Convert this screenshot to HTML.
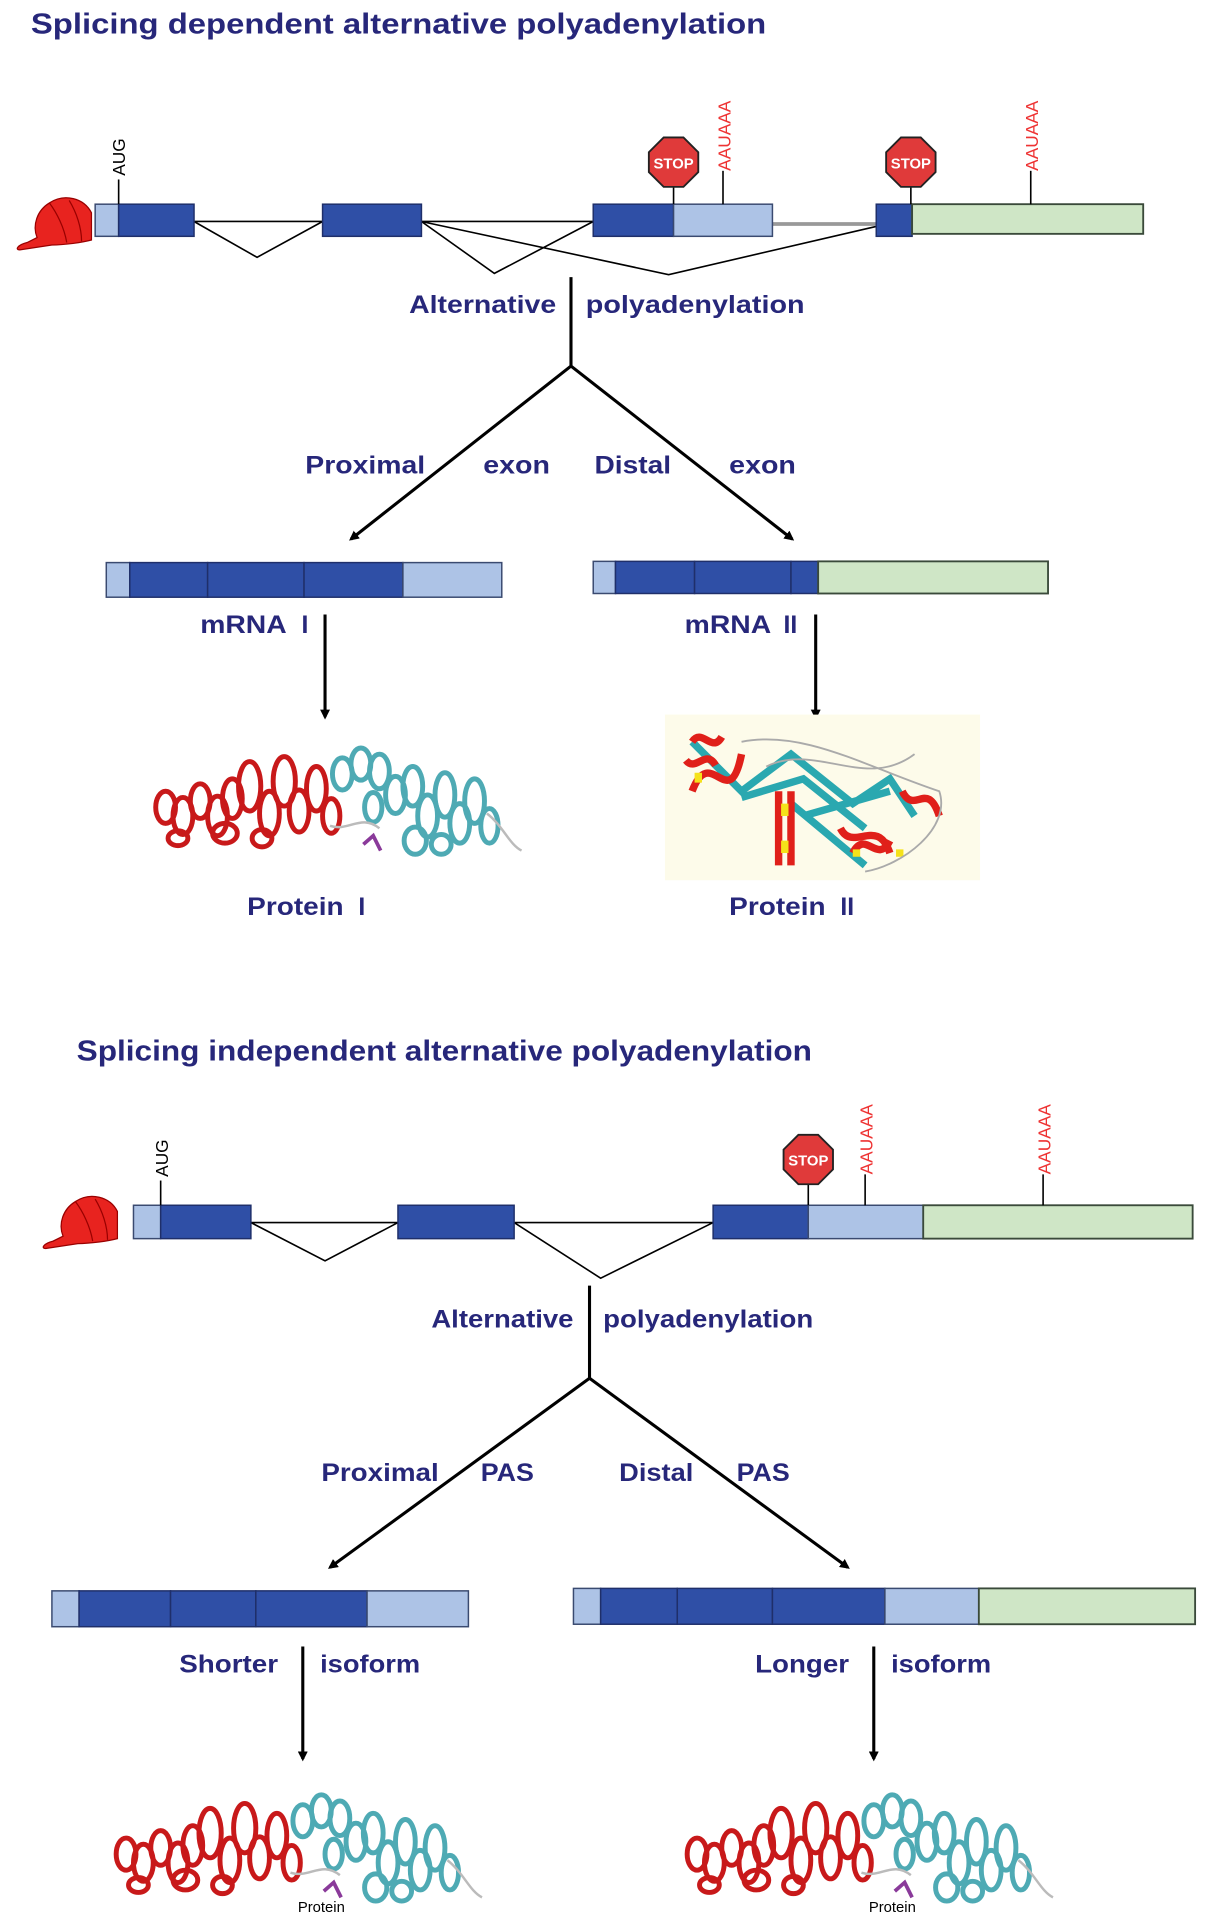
<!DOCTYPE html>
<html><head><meta charset="utf-8"><style>
html,body{margin:0;padding:0;background:#fff}
svg{display:block}
text{font-family:"Liberation Sans",sans-serif}
.t{font-weight:bold;fill:#27277a;font-size:20px}
.h{font-weight:bold;fill:#27277a;font-size:23px}
.d{fill:#2f4fa6;stroke:#1f2f6a;stroke-width:1.2}
.l{fill:#adc3e6;stroke:#3a4a70;stroke-width:1.2}
.g{fill:#cfe6c6;stroke:#3a4a3a;stroke-width:1.5}
.ln{stroke:#000;stroke-width:1.3;fill:none}
.ar{stroke:#000;stroke-width:2.5;fill:none}
.rna{fill:#e33;font-size:14px}
</style></head><body>
<svg width="1205" height="1931" viewBox="0 0 975 1562" xmlns="http://www.w3.org/2000/svg">
<defs>
<marker id="ah" markerWidth="8" markerHeight="8" refX="6" refY="4" orient="auto" markerUnits="userSpaceOnUse"><path d="M0,0 L8,4 L0,8 z" fill="#000"/></marker>
<g id="cap">
<path d="M10,38 C2,40 0,44 4,44 L30,40 C40,40 55,38 62,36 L62,14 C56,2 40,-2 28,6 C18,12 14,24 18,34 Z" fill="#e8231f" stroke="#900" stroke-width="1"/>
<path d="M28,6 C34,14 40,26 42,38 M44,4 C50,14 54,26 54,37" stroke="#900" stroke-width="1" fill="none"/>
</g>
<g id="stop"><polygon points="-8,-20 8,-20 20,-8 20,8 8,20 -8,20 -20,8 -20,-8" fill="#e03a3a" stroke="#222" stroke-width="1.5"/><text x="0" y="5" text-anchor="middle" fill="#fff" font-size="12" font-weight="bold">STOP</text></g>
<g id="prot" fill="none" stroke-width="4">
<g stroke="#c8191a">
<ellipse cx="12" cy="55" rx="8" ry="13"/><ellipse cx="26" cy="62" rx="8" ry="15"/><ellipse cx="40" cy="50" rx="8" ry="14"/><ellipse cx="54" cy="62" rx="8" ry="16"/><ellipse cx="66" cy="48" rx="8" ry="16"/><ellipse cx="80" cy="38" rx="9" ry="20"/><ellipse cx="96" cy="60" rx="8" ry="18"/><ellipse cx="108" cy="34" rx="9" ry="20"/><ellipse cx="120" cy="58" rx="8" ry="17"/><ellipse cx="134" cy="40" rx="8" ry="18"/><ellipse cx="146" cy="62" rx="7" ry="14"/><ellipse cx="60" cy="76" rx="10" ry="8"/><ellipse cx="22" cy="80" rx="8" ry="6"/><ellipse cx="90" cy="80" rx="8" ry="7"/>
</g>
<g stroke="#4eaab4">
<ellipse cx="155" cy="28" rx="8" ry="13"/><ellipse cx="170" cy="20" rx="8" ry="13"/><ellipse cx="185" cy="26" rx="8" ry="14"/><ellipse cx="198" cy="45" rx="8" ry="15"/><ellipse cx="212" cy="38" rx="8" ry="16"/><ellipse cx="224" cy="62" rx="8" ry="17"/><ellipse cx="238" cy="45" rx="8" ry="18"/><ellipse cx="250" cy="68" rx="8" ry="16"/><ellipse cx="262" cy="50" rx="8" ry="18"/><ellipse cx="274" cy="70" rx="7" ry="14"/><ellipse cx="214" cy="82" rx="9" ry="11"/><ellipse cx="180" cy="55" rx="7" ry="12"/><ellipse cx="235" cy="85" rx="8" ry="8"/>
</g>
<path d="M145,70 C160,75 170,60 185,72 M272,60 C285,70 290,85 300,90" stroke="#bbb" stroke-width="2"/>
<path d="M172,85 L180,78 L186,90" stroke="#8a3a9a" stroke-width="3"/>
</g>
</defs>

<!-- TOP -->
<text class="h" x="25" y="27" textLength="595" lengthAdjust="spacingAndGlyphs">Splicing dependent alternative polyadenylation</text>
<use href="#cap" x="12" y="158"/>
<path class="ln" d="M157,179 L261,179 M341,179 L480,179 M157,179 L208,208 L261,179 M341,179 L400,221 L480,179 M341,179 L541,222 L709,183"/>
<line x1="625" y1="181" x2="709" y2="181" stroke="#999" stroke-width="3"/>
<rect class="l" x="77" y="165" width="19" height="26"/><rect class="d" x="96" y="165" width="61" height="26"/>
<rect class="d" x="261" y="165" width="80" height="26"/>
<rect class="d" x="480" y="165" width="65" height="26"/><rect class="l" x="545" y="165" width="80" height="26"/>
<rect class="d" x="709" y="165" width="29" height="26"/><rect class="g" x="738" y="165" width="187" height="24"/>
<line class="ln" x1="96" y1="145" x2="96" y2="165"/><text x="101" y="142" font-size="14" transform="rotate(-90 101 142)">AUG</text>
<line class="ln" x1="545" y1="145" x2="545" y2="165"/><use href="#stop" x="545" y="131"/>
<line class="ln" x1="585" y1="138" x2="585" y2="165"/><text class="rna" x="591" y="138" transform="rotate(-90 591 138)">AAUAAA</text>
<line class="ln" x1="737" y1="145" x2="737" y2="165"/><use href="#stop" x="737" y="131"/>
<line class="ln" x1="834" y1="138" x2="834" y2="165"/><text class="rna" x="840" y="138" transform="rotate(-90 840 138)">AAUAAA</text>
<text class="t" x="331" y="253" textLength="119" lengthAdjust="spacingAndGlyphs">Alternative</text><text class="t" x="474" y="253" textLength="177" lengthAdjust="spacingAndGlyphs">polyadenylation</text>
<line x1="462" y1="224" x2="462" y2="296" stroke="#000" stroke-width="2.5"/>
<line class="ar" x1="462" y1="296" x2="284" y2="436" marker-end="url(#ah)"/>
<line class="ar" x1="462" y1="296" x2="641" y2="436" marker-end="url(#ah)"/>
<text class="t" x="247" y="383" textLength="97" lengthAdjust="spacingAndGlyphs">Proximal</text><text class="t" x="391" y="383" textLength="54" lengthAdjust="spacingAndGlyphs">exon</text>
<text class="t" x="481" y="383" textLength="62" lengthAdjust="spacingAndGlyphs">Distal</text><text class="t" x="590" y="383" textLength="54" lengthAdjust="spacingAndGlyphs">exon</text>
<rect class="l" x="86" y="455" width="19" height="28"/><rect class="d" x="105" y="455" width="63" height="28"/><rect class="d" x="168" y="455" width="78" height="28"/><rect class="d" x="246" y="455" width="80" height="28"/><rect class="l" x="326" y="455" width="80" height="28"/>
<rect class="l" x="480" y="454" width="18" height="26"/><rect class="d" x="498" y="454" width="64" height="26"/><rect class="d" x="562" y="454" width="78" height="26"/><rect class="d" x="640" y="454" width="22" height="26"/><rect class="g" x="662" y="454" width="186" height="26"/>
<text class="t" x="162" y="512" textLength="70" lengthAdjust="spacingAndGlyphs">mRNA</text><text class="t" x="244" y="512" font-family="Liberation Serif" font-weight="normal">I</text>
<text class="t" x="554" y="512" textLength="70" lengthAdjust="spacingAndGlyphs">mRNA</text><text class="t" x="634" y="512" font-family="Liberation Serif" font-weight="normal">II</text>
<line class="ar" x1="263" y1="497" x2="263" y2="580" marker-end="url(#ah)"/>
<line class="ar" x1="660" y1="497" x2="660" y2="580" marker-end="url(#ah)"/>
<use href="#prot" x="122" y="598"/>
<rect x="538" y="578" width="255" height="134" fill="#fdfbea"/>
<g fill="none" stroke-width="6">
<path d="M560,600 L600,640 L640,610 L690,650 L720,630 L740,660 M640,650 L700,700 M600,645 L650,630 L700,670 M650,660 L720,640" stroke="#2aa8b0"/>
<path d="M560,640 C575,600 590,660 600,610 M630,640 l0,60 M640,640 l0,60 M680,670 c10,20 30,-10 40,20 M730,640 c10,20 20,-10 30,20 M560,600 c8,-12 16,10 24,-4 M690,690 c10,-20 20,10 30,-10 M555,615 c8,10 16,-10 24,4" stroke="#e0201a"/>
<path d="M635,650 l0,10 M635,680 l0,10 M690,690 l6,0 M565,625 l0,8 M725,690 l6,0" stroke="#f5e21a"/>
<path d="M600,600 C650,590 700,620 760,640 C770,670 730,700 700,705 M620,620 C660,600 700,640 740,610" stroke="#aaa" stroke-width="1.5"/>
</g>
<text class="t" x="200" y="740" textLength="78" lengthAdjust="spacingAndGlyphs">Protein</text><text class="t" x="290" y="740" font-family="Liberation Serif" font-weight="normal">I</text>
<text class="t" x="590" y="740" textLength="78" lengthAdjust="spacingAndGlyphs">Protein</text><text class="t" x="680" y="740" font-family="Liberation Serif" font-weight="normal">II</text>

<!-- BOTTOM -->
<text class="h" x="62" y="858" textLength="595" lengthAdjust="spacingAndGlyphs">Splicing independent alternative polyadenylation</text>
<use href="#cap" x="33" y="966"/>
<path class="ln" d="M203,989 L322,989 M416,989 L577,989 M203,989 L263,1020 L322,989 M416,989 L486,1034 L577,989"/>
<rect class="l" x="108" y="975" width="22" height="27"/><rect class="d" x="130" y="975" width="73" height="27"/>
<rect class="d" x="322" y="975" width="94" height="27"/>
<rect class="d" x="577" y="975" width="77" height="27"/><rect class="l" x="654" y="975" width="93" height="27"/><rect class="g" x="747" y="975" width="218" height="27"/>
<line class="ln" x1="130" y1="955" x2="130" y2="975"/><text x="136" y="952" font-size="14" transform="rotate(-90 136 952)">AUG</text>
<line class="ln" x1="654" y1="950" x2="654" y2="975"/><use href="#stop" x="654" y="938"/>
<line class="ln" x1="700" y1="950" x2="700" y2="975"/><text class="rna" x="706" y="950" transform="rotate(-90 706 950)">AAUAAA</text>
<line class="ln" x1="844" y1="950" x2="844" y2="975"/><text class="rna" x="850" y="950" transform="rotate(-90 850 950)">AAUAAA</text>
<text class="t" x="349" y="1074" textLength="115" lengthAdjust="spacingAndGlyphs">Alternative</text><text class="t" x="488" y="1074" textLength="170" lengthAdjust="spacingAndGlyphs">polyadenylation</text>
<line x1="477" y1="1040" x2="477" y2="1115" stroke="#000" stroke-width="2.5"/>
<line class="ar" x1="477" y1="1115" x2="267" y2="1268" marker-end="url(#ah)"/>
<line class="ar" x1="477" y1="1115" x2="686" y2="1268" marker-end="url(#ah)"/>
<text class="t" x="260" y="1198" textLength="95" lengthAdjust="spacingAndGlyphs">Proximal</text><text class="t" x="389" y="1198" textLength="43" lengthAdjust="spacingAndGlyphs">PAS</text>
<text class="t" x="501" y="1198" textLength="60" lengthAdjust="spacingAndGlyphs">Distal</text><text class="t" x="596" y="1198" textLength="43" lengthAdjust="spacingAndGlyphs">PAS</text>
<rect class="l" x="42" y="1287" width="22" height="29"/><rect class="d" x="64" y="1287" width="74" height="29"/><rect class="d" x="138" y="1287" width="69" height="29"/><rect class="d" x="207" y="1287" width="90" height="29"/><rect class="l" x="297" y="1287" width="82" height="29"/>
<rect class="l" x="464" y="1285" width="22" height="29"/><rect class="d" x="486" y="1285" width="62" height="29"/><rect class="d" x="548" y="1285" width="77" height="29"/><rect class="d" x="625" y="1285" width="91" height="29"/><rect class="l" x="716" y="1285" width="76" height="29"/><rect class="g" x="792" y="1285" width="175" height="29"/>
<text class="t" x="145" y="1353" textLength="80" lengthAdjust="spacingAndGlyphs">Shorter</text><text class="t" x="259" y="1353" textLength="81" lengthAdjust="spacingAndGlyphs">isoform</text>
<text class="t" x="611" y="1353" textLength="76" lengthAdjust="spacingAndGlyphs">Longer</text><text class="t" x="721" y="1353" textLength="81" lengthAdjust="spacingAndGlyphs">isoform</text>
<line class="ar" x1="245" y1="1332" x2="245" y2="1423" marker-end="url(#ah)"/>
<line class="ar" x1="707" y1="1332" x2="707" y2="1423" marker-end="url(#ah)"/>
<use href="#prot" x="90" y="1445"/>
<use href="#prot" x="552" y="1445"/>
<text x="241" y="1547" font-size="12">Protein</text>
<text x="703" y="1547" font-size="12">Protein</text>
</svg>
</body></html>
